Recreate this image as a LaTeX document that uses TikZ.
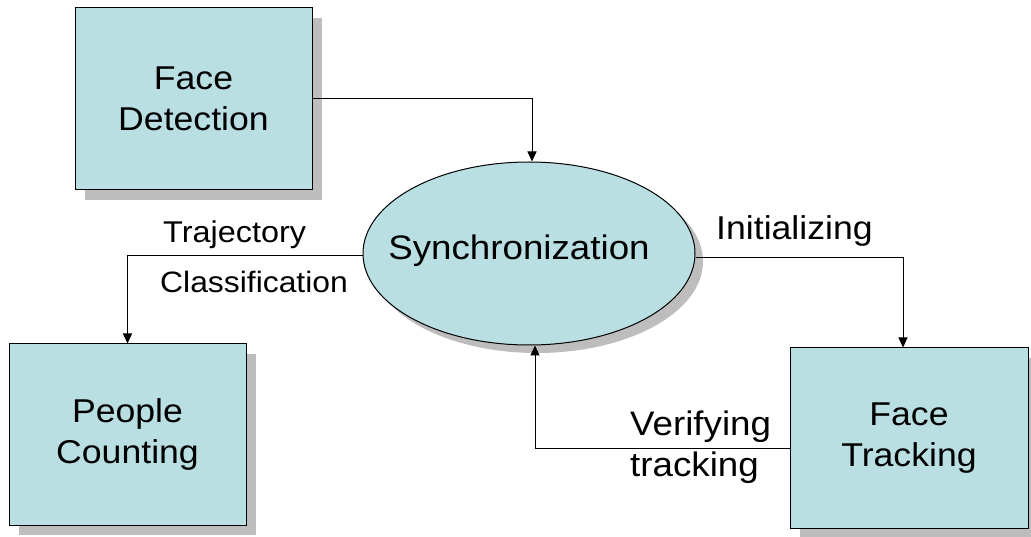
\documentclass[tikz,border=0pt]{standalone}
\usepackage{fontspec}
\setmainfont[FakeStretch=1.08]{Liberation Sans}
\usetikzlibrary{shapes.geometric,shadows,arrows.meta}
\definecolor{boxfill}{HTML}{B9DFE3}
\definecolor{shadowgray}{HTML}{BDBDBD}
\begin{document}
\begin{tikzpicture}[x=1pt,y=-1pt,
  box/.style={draw=black,line width=1pt,fill=boxfill,inner sep=0pt,align=center,
    font=\fontsize{33}{41}\selectfont,
    drop shadow={shadow xshift=10pt,shadow yshift=-10pt,fill=shadowgray,opacity=1}},
  oval/.style={ellipse,draw=black,line width=1pt,fill=boxfill,inner sep=0pt,
    drop shadow={shadow xshift=8pt,shadow yshift=-8pt,fill=shadowgray,opacity=1}},
  lbl/.style={inner sep=0pt,anchor=base west},
  arr/.style={line width=1pt,-{Triangle[width=9pt,length=10pt]}}]
\useasboundingbox (0,0) rectangle (1031,537);
\node[box,minimum width=237pt,minimum height=182pt] (FD) at (193.5,99) {Face\\Detection};
\node[box,minimum width=237pt,minimum height=181pt] (PC) at (127.5,434.5) {People\\Counting};
\node[box,minimum width=238pt,minimum height=180pt] (FT) at (909,438) {Face\\Tracking};
\node[oval,minimum width=332pt,minimum height=183pt] (S) at (529,253.5) {};
\node[inner sep=0pt,font=\fontsize{34}{41}\selectfont] (St) at ([xshift=-10pt,yshift=3pt]S.center) {Synchronization};
\draw[arr] (FD.east) -| ([xshift=3pt]S.north);
\draw[arr] ([yshift=-2pt]S.west) -| (PC.north);
\draw[arr] ([yshift=-4pt]S.east) -| ([xshift=-6pt]FT.north);
\draw[arr] ([yshift=-10pt]FT.west) -| ([xshift=6pt]S.south);
\node[lbl,font=\fontsize{30}{36}\selectfont] (t1) at (163,243) {Trajectory};
\node[lbl,font=\fontsize{29.5}{36}\selectfont] (t2) at (160,293) {Classification};
\node[lbl,font=\fontsize{33}{40}\selectfont] (t3) at (716,240) {Initializing};
\node[lbl,font=\fontsize{34}{40}\selectfont] (t4) at (630,435) {Verifying};
\node[lbl,font=\fontsize{34}{40}\selectfont] (t5) at (630,476) {tracking};
\end{tikzpicture}
\end{document}
